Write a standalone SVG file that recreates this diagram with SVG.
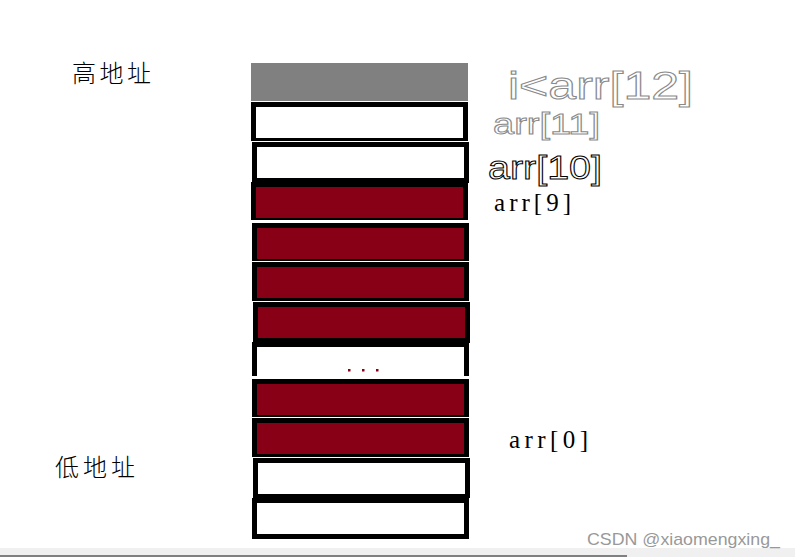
<svg xmlns="http://www.w3.org/2000/svg" width="795" height="557" viewBox="0 0 795 557">
<style>
.o{fill:#000}
.w{fill:#fff}
.r{fill:#880015}
.cjk{font-family:"Noto Sans CJK SC","Noto Sans CJK JP",sans-serif;font-size:24px;font-weight:300;fill:#000}
.lbl{font-family:"Liberation Serif",serif;font-size:25px;fill:#000}
.hand{font-family:"Liberation Sans",sans-serif;fill:none;stroke-width:1}
</style>
<rect width="795" height="557" fill="#fff"/>
<g id="top">
<rect x="251" y="63" width="217" height="38" fill="#808080"/>
</g>
<g id="cell11">
<rect class="o" x="251" y="102" width="217" height="39"/>
<rect class="w" x="256" y="107" width="207" height="31"/>
</g>
<g id="cell10">
<rect class="o" x="252" y="142" width="217" height="41"/>
<rect class="w" x="257" y="147" width="207" height="31"/>
</g>
<g id="cell9">
<rect class="o" x="251" y="182" width="217" height="38"/>
<rect class="r" x="256" y="187" width="207" height="31"/>
</g>
<g id="cell8">
<rect class="o" x="252" y="223" width="217" height="38"/>
<rect class="r" x="257" y="228" width="207" height="31"/>
</g>
<g id="cell7">
<rect class="o" x="252" y="262" width="217" height="39"/>
<rect class="r" x="257" y="267" width="207" height="31"/>
</g>
<g id="cell6">
<rect class="o" x="253" y="302" width="217" height="41"/>
<rect class="r" x="258" y="307" width="207" height="31"/>
</g>
<g id="cellDots">
<rect class="o" x="252" y="342" width="217" height="34"/>
<rect class="w" x="257" y="347" width="207" height="29"/>
<rect class="r" x="348" y="369" width="2.5" height="2.5"/>
<rect class="r" x="362" y="369" width="2.5" height="2.5"/>
<rect class="r" x="376" y="369" width="2.5" height="2.5"/>
</g>
<g id="cell1">
<rect class="o" x="252" y="379" width="217" height="38"/>
<rect class="r" x="257" y="384" width="207" height="31"/>
</g>
<g id="cell0">
<rect class="o" x="252" y="418" width="217" height="39"/>
<rect class="r" x="257" y="423" width="207" height="31"/>
</g>
<g id="cellm1">
<rect class="o" x="253" y="458" width="217" height="40"/>
<rect class="w" x="258" y="463" width="207" height="31"/>
</g>
<g id="cellm2">
<rect class="o" x="252" y="498" width="217" height="41"/>
<rect class="w" x="257" y="503" width="207" height="31"/>
</g>
<g id="bottombar">
<rect x="0" y="548" width="795" height="9" fill="#f0f0f0"/>
<rect x="0" y="555" width="627" height="2" fill="#808080"/>
</g>
<g id="labels">
<text class="cjk" x="72" y="82" textLength="79">高地址</text>
<text class="cjk" x="55" y="476" textLength="80">低地址</text>
<text class="lbl" x="494" y="211" textLength="77" lengthAdjust="spacing">arr[9]</text>
<text class="lbl" x="509" y="448" textLength="79" lengthAdjust="spacing">arr[0]</text>
<text class="hand" x="508" y="99" font-size="38" stroke="#8a8a8a" textLength="185" lengthAdjust="spacingAndGlyphs">i&lt;arr[12]</text>
<text class="hand" x="493" y="134" font-size="30" stroke="#8a8a8a" textLength="107" lengthAdjust="spacingAndGlyphs">arr[11]</text>
<text class="hand" x="488" y="179" font-size="34" stroke="#000" textLength="114" lengthAdjust="spacingAndGlyphs">arr[10]</text>
<text x="587" y="545" font-family="Liberation Sans,sans-serif" font-size="17" fill="#999" textLength="193" lengthAdjust="spacingAndGlyphs">CSDN @xiaomengxing_</text>
</g>
<g id="connectors"></g>
</svg>
